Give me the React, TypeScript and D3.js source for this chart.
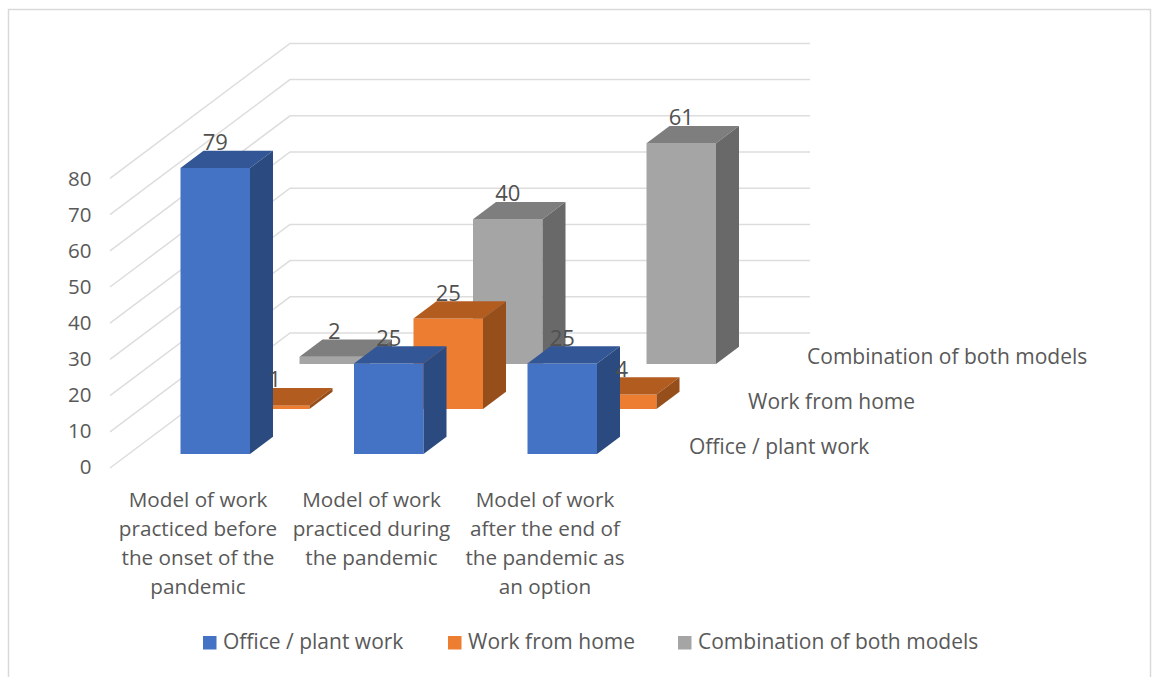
import React from "react";
import * as d3 from "d3";

const categories = [
  ["Model of work", "practiced before", "the onset of the", "pandemic"],
  ["Model of work", "practiced during", "the pandemic"],
  ["Model of work", "after the end of", "the pandemic as", "an option"],
];
const seriesNames = ["Office / plant work", "Work from home", "Combination of both models"];
const officeValues = [79, 25, 25];
const homeValues = [1, 25, 4];
const comboValues = [2, 40, 61];
const seriesValues = [officeValues, homeValues, comboValues];
const yTicks = [0, 10, 20, 30, 40, 50, 60, 70, 80];

const frontColors = ["#4472C4", "#ED7D31", "#A5A5A5"];
const topColors = ["#335696", "#B25C20", "#7E7E7E"];
const sideColors = ["#2A4A80", "#964F1B", "#696969"];

const FONT = "'Open Sans', sans-serif";
const TEXT = "#595959";

// value height above a base
const h = d3.scaleLinear().domain([0, 80]).range([0, 289.6]);
// category position (left edge of a front-row bar)
const xCat = d3.scaleLinear().domain([0, 2]).range([180.5, 527.5]);
// series depth offset
const depthX = d3.scaleLinear().domain([0, 2]).range([0, 119]);
const depthY = d3.scaleLinear().domain([0, 2]).range([454, 364]);
const barW = 69.5;
const sideDx = 23;
const sideDy = 17.3;
const pts = (a: number[][]) => a.map((p) => p.join(",")).join(" ");

export default function App() {
  const order = [2, 1, 0];
  return (
    <svg
      width={1154}
      height={677}
      style={{ position: "absolute", left: 0, top: 0, background: "#fff" }}
      fontFamily={FONT}
    >
      <path d="M8.5,677V9.5H1150.5V677" fill="none" stroke="#D9D9D9" strokeWidth={1.5} />

      {yTicks.map((t) => (
        <polyline
          key={t}
          points={pts([
            [110, 468 - h(t)],
            [290, 333 - h(t)],
            [810, 333 - h(t)],
          ])}
          fill="none"
          stroke="#DDDDDD"
          strokeWidth={1.5}
        />
      ))}

      {yTicks.map((t) => (
        <text key={t} x={91.5} y={465.5 - h(t) * 0.992} textAnchor="end" dominantBaseline="central" fontSize={20.5} fill={TEXT}>
          {t}
        </text>
      ))}

      {order.map((s) =>
        seriesValues[s].map((v, c) => {
          const x0 = xCat(c) + depthX(s);
          const x1 = x0 + barW;
          const yb = depthY(s);
          const yt = yb - h(v);
          return (
            <g key={`${s}-${c}`}>
              <rect x={x0} y={yt} width={barW} height={yb - yt} fill={frontColors[s]} />
              <polygon
                points={pts([
                  [x0, yt],
                  [x0 + sideDx, yt - sideDy],
                  [x1 + sideDx, yt - sideDy],
                  [x1, yt],
                ])}
                fill={topColors[s]}
              />
              <polygon
                points={pts([
                  [x1, yt],
                  [x1 + sideDx, yt - sideDy],
                  [x1 + sideDx, yb - sideDy],
                  [x1, yb],
                ])}
                fill={sideColors[s]}
              />
            </g>
          );
        })
      )}

      {order.map((s) =>
        seriesValues[s].map((v, c) => (
          <text
            key={`l${s}-${c}`}
            x={xCat(c) + depthX(s) + barW / 2}
            y={depthY(s) - h(v) - 18}
            textAnchor="middle"
            fontSize={22}
            fill="#505050"
          >
            {v}
          </text>
        ))
      )}

      {seriesNames.map((n, s) => (
        <text key={n} x={689 + depthX(s) * 0.992} y={446 - s * 45} dominantBaseline="central" fontSize={21} fill={TEXT}>
          {n}
        </text>
      ))}

      {categories.map((lines, c) =>
        lines.map((line, i) => (
          <text
            key={`${c}-${i}`}
            x={xCat(c) + 17.5}
            y={498.5 + i * 29}
            textAnchor="middle"
            dominantBaseline="central"
            fontSize={20.7}
            fill={TEXT}
          >
            {line}
          </text>
        ))
      )}

      {seriesNames.map((n, s) => {
        const sx = [203, 448, 678][s];
        return (
          <g key={`lg${s}`}>
            <rect x={sx} y={636} width={13.5} height={13.5} fill={frontColors[s]} />
            <text x={sx + 20} y={641} dominantBaseline="central" fontSize={21} fill={TEXT}>
              {n}
            </text>
          </g>
        );
      })}
    </svg>
  );
}
